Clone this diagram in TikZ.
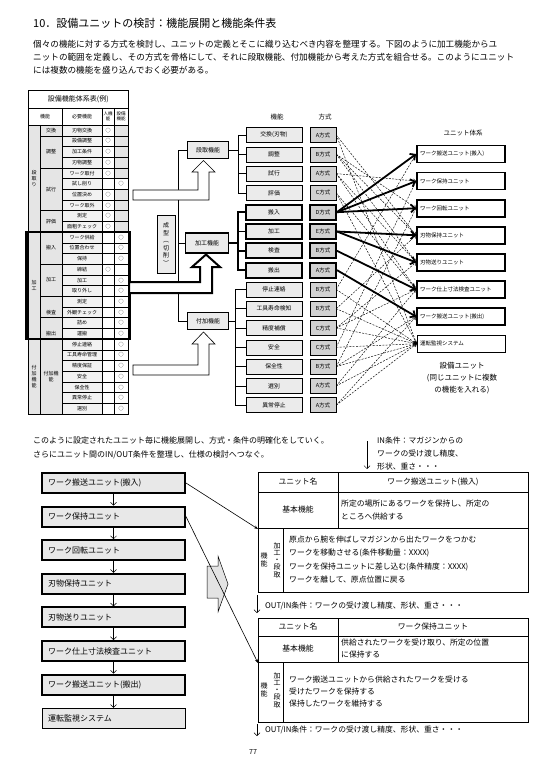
\documentclass[tikz,border=0pt]{standalone}
\usepackage{fontspec}
\setmainfont{Noto Sans CJK JP}
\usetikzlibrary{arrows.meta}
\newcommand\jfs[2]{\fontsize{#1pt}{#2pt}\selectfont}
\begin{document}
\begin{tikzpicture}[x=1pt,y=-1pt,
  txtw/.style={inner sep=0pt, anchor=west},
  txtc/.style={inner sep=0pt, align=center},
  fbox/.style={draw, line width=0.5pt, fill=gray!16, minimum width=56pt, minimum height=15pt, inner sep=0pt, font=\jfs{5.8}{7}},
  fboxk/.style={fbox, line width=1.8pt},
  mbox/.style={draw, line width=0.5pt, fill=gray!36, minimum width=26pt, minimum height=15pt, inner sep=0pt, font=\jfs{5.5}{7}},
  mboxk/.style={mbox, line width=1.8pt},
  ubox/.style={draw, line width=1.8pt, fill=white, text width=82pt, inner xsep=3pt, inner ysep=0pt, minimum height=17pt, align=left, font=\jfs{5.5}{7}},
  uboxthin/.style={ubox, line width=0.6pt},
  gbox/.style={draw, line width=0.5pt, fill=gray!16, inner sep=0pt, font=\jfs{6}{7}},
  thk/.style={line width=1.8pt, -{Straight Barb[length=4pt,width=8pt]}},
  dsh/.style={line width=0.45pt, dash pattern=on 2pt off 1.3pt, -{Straight Barb[length=2.5pt,width=4pt]}},
  flowk/.style={draw, line width=2pt, fill=gray!18, text width=131pt, inner xsep=6pt, inner ysep=0pt, minimum height=20pt, align=left, font=\jfs{8}{9}},
  flowthin/.style={flowk, line width=0.6pt},
  darr/.style={line width=0.5pt, -{Straight Barb[length=3pt,width=6pt]}},
  thinarr/.style={line width=0.6pt, -{Stealth[length=4pt,width=3pt]}},
  tline/.style={line width=0.5pt},
  cell/.style={txtc, font=\jfs{5}{6}},
  rt/.style={txtw, font=\jfs{7.8}{9}}
]
\useasboundingbox[fill=white] (0,0) rectangle (535,767);

% ---------- title and paragraph ----------
\node[txtw, font=\jfs{11}{12}] (title) at (33,23) {10．設備ユニットの検討：機能展開と機能条件表};
\node[txtw, font=\jfs{8.6}{10}] (p1) at (33,44) {個々の機能に対する方式を検討し、ユニットの定義とそこに織り込むべき内容を整理する。下図のように加工機能からユ};
\node[txtw, font=\jfs{8.6}{10}] (p2) at (33,57) {ニットの範囲を定義し、その方式を骨格にして、それに段取機能、付加機能から考えた方式を組合せる。このようにユニット};
\node[txtw, font=\jfs{8.6}{10}] (p3) at (33,70) {には複数の機能を盛り込んでおく必要がある。};

% ---------- table ----------
\node[draw, line width=0.6pt, minimum width=100pt, minimum height=18pt, inner sep=0pt, anchor=north west, font=\jfs{7}{8}] (ttl) at (28,90) {設備機能体系表(例)};
\draw[tline] (28,108) rectangle (128,125);
\draw[tline] (62,108) -- (62,125) (102,108) -- (102,125) (114,108) -- (114,125);
\node[cell] (h1) at (45,116.5) {機能};
\node[cell] (h2) at (82,116.5) {必要機能};
\node[txtc, font=\jfs{4.5}{5.5}] (h3) at (108,116.5) {人機\\能};
\node[txtc, font=\jfs{4.5}{5.5}] (h4) at (121,116.5) {設備\\機能};

\fill[gray!20] (28,125) rectangle (62,414);
\fill[gray!10] (62,125) rectangle (102,414);
\foreach \r in {0,1,2,3,4,6,7,8,9} \fill[gray!20] (114,125+10.7*\r) rectangle (128,135.7+10.7*\r);
\draw[tline] (28,125) rectangle (128,414);
\draw[tline] (40,125) -- (40,414) (62,125) -- (62,414) (102,125) -- (102,414) (114,125) -- (114,414);
\foreach \r in {1,...,26} \draw[line width=0.35pt] (62,125+10.7*\r) -- (128,125+10.7*\r);
\foreach \r in {1,4,8,10,13,16,18,20} \draw[line width=0.35pt] (40,125+10.7*\r) -- (62,125+10.7*\r);
\foreach \r in {10,20} \draw[line width=0.35pt] (28,125+10.7*\r) -- (40,125+10.7*\r);

\node[cell] (g1) at (34,178.5) {段\\取\\り};
\node[cell] (g2) at (34,285.5) {加\\工};
\node[cell] (g3) at (34,376.5) {付\\加\\機\\能};
\node[cell] (s1) at (51,130.35) {交換};
\node[cell] (s2) at (51,151.75) {調整};
\node[cell] (s3) at (51,189.2) {試行};
\node[cell] (s4) at (51,221.3) {評価};
\node[cell] (s5) at (51,247.6) {搬入};
\node[cell] (s6) at (51,280.1) {加工};
\node[cell] (s7) at (51,312.25) {検査};
\node[cell] (s8) at (51,333.65) {搬出};
\node[cell] (s9) at (51,376.5) {付加機\\能};
\foreach \i/\t in {0/刃物交換,1/設備調整,2/加工条件,3/刃物調整,4/ワーク取付,5/試し削り,6/位置決め,7/ワーク取外,8/測定,9/面粗チェック,10/ワーク供給,11/位置合わせ,12/保持,13/締結,14/加工,15/取り外し,16/測定,17/外観チェック,18/詰め,19/運搬,20/停止連絡,21/工具寿命管理,22/精度保証,23/安全,24/保全性,25/異常停止,26/選別}
  \node[cell] (r\i) at (82,130.35+10.7*\i) {\t};
\foreach \i in {0,1,2,3,4,6,7,8,9,13}
  \node[cell] (hm\i) at (108,130.35+10.7*\i) {○};
\foreach \i in {5,10,11,12,14,15,16,17,18,19,20,21,22,23,24,25,26}
  \node[cell] (sm\i) at (121,130.35+10.7*\i) {○};
\draw[line width=2.2pt] (26.5,232) rectangle (129.5,339);

% ---------- middle: function groups ----------
\coordinate (bl) at (178,150);
\node[gbox, minimum width=41pt, minimum height=17pt] (dq) at (208,150) {段取機能};
\node[gbox, minimum width=41pt, minimum height=17pt] (fk) at (208,321) {付加機能};
\draw[tline] (dq.west) -- (bl) -- (bl |- fk.west) -- (fk.west);
\draw[tline] (bl |- 0,243) -- (185,243);

% hollow arrows
\draw[line width=0.6pt, fill=white] (133,190) -- (198,190) -- (198,172) -- (192,172) -- (203.5,160.5) -- (215,172) -- (209,172) -- (209,200) -- (133,200) -- cycle;
\draw[line width=2pt, fill=white, line join=miter] (129,282) -- (200,282) -- (200,267) -- (192,267) -- (206,254.5) -- (220,267) -- (212,267) -- (212,293) -- (129,293) -- cycle;
\draw[line width=0.6pt, fill=white] (133,365) -- (198,365) -- (198,344) -- (192,344) -- (203.5,332) -- (215,344) -- (209,344) -- (209,375) -- (133,375) -- cycle;

\node[gbox, line width=1.8pt, minimum width=43pt, minimum height=20pt] (kk) at (207,243) {加工機能};
\node[gbox, minimum width=18pt, minimum height=58pt, align=center, font=\jfs{6}{7.5}] (sk) at (166,244) {成\\型\\︵\\切\\削\\︶};

% function / method columns
\node[txtc, font=\jfs{6.5}{7}] (hf) at (277,117) {機能};
\node[txtc, font=\jfs{6.5}{7}] (hm) at (325,117) {方式};
\foreach \i/\t/\m in {0/交換(刃物)/A方式,1/調整/B方式,2/試行/A方式,3/評価/C方式}{
  \node[fbox] (f\i) at (274,135+19.3*\i) {\t};
  \node[mbox] (m\i) at (323,135+19.3*\i) {\m};
}
\foreach \i/\t/\m in {4/搬入/D方式,5/加工/E方式,6/検査/B方式,7/搬出/A方式}{
  \node[fboxk] (f\i) at (274,135+19.3*\i) {\t};
  \node[mboxk] (m\i) at (323,135+19.3*\i) {\m};
}
\foreach \i/\t/\m in {8/停止連絡/B方式,9/工具寿命検知/B方式,10/精度補償/C方式,11/安全/C方式,12/保全性/B方式,13/選別/A方式,14/異常停止/A方式}{
  \node[fbox] (f\i) at (274,135+19.3*\i) {\t};
  \node[mbox] (m\i) at (323,135+19.3*\i) {\m};
}

% trees
\coordinate (bd) at (238,150);
\draw[tline] (dq.east) -- (bd);
\draw[tline] (f0.west -| bd) -- (f3.west -| bd);
\foreach \i in {0,...,3} \draw[tline] (f\i.west -| bd) -- (f\i.west);
\coordinate (bk) at (238,243);
\draw[line width=1.8pt] (kk.east) -- (bk);
\draw[line width=1.8pt, line cap=rect] (f4.west -| bk) -- (f7.west -| bk);
\foreach \i in {4,...,7} \draw[line width=1.8pt] (f\i.west -| bk) -- (f\i.west);
\coordinate (bf) at (235,321);
\draw[tline] (fk.east) -- (bf);
\draw[tline] (f8.west -| bf) -- (f14.west -| bf);
\foreach \i in {8,...,14} \draw[tline] (f\i.west -| bf) -- (f\i.west);

% ---------- unit system ----------
\node[txtc, font=\jfs{6.5}{7}] (ut) at (463,133) {ユニット体系};
\foreach \i/\t in {0/ワーク搬送ユニット(搬入),1/ワーク保持ユニット,2/ワーク回転ユニット,3/刃物保持ユニット,4/刃物送りユニット,5/ワーク仕上寸法検査ユニット,6/ワーク搬送ユニット(搬出)}
  \node[ubox] (u\i) at (461,154+27.1*\i) {\t};
\node[uboxthin] (u7) at (461,343.7) {運転監視システム};
\node[txtc, font=\jfs{7.5}{12}] (note) at (462,378) {設備ユニット\\(同じユニットに複数\\の機能を入れる)};

\foreach \a/\b in {0/3,0/7,1/2,1/3,1/4,2/1,2/4,2/5,3/5,3/7,8/0,8/7,9/3,9/7,10/4,10/5,10/7,11/1,11/7,12/2,12/6,12/7,13/5,13/7,14/6,14/7}
  \draw[dsh] (m\a.east) -- (u\b.west);
\foreach \a/\b in {4/0,4/1,4/2,5/3,5/4,6/5,7/6}
  \draw[thk] (m\a.east) -- (u\b.west);

% ---------- lower section ----------
\node[txtw, font=\jfs{8}{9}] (q1) at (33,440) {このように設定されたユニット毎に機能展開し、方式・条件の明確化をしていく。};
\node[txtw, font=\jfs{8}{9}] (q2) at (33,455) {さらにユニット間のIN/OUT条件を整理し、仕様の検討へつなぐ。};

\node[txtw, font=\jfs{7.8}{9}] (in1) at (377,441) {IN条件：マガジンからの};
\node[txtw, font=\jfs{7.8}{9}] (in2) at (377,454) {ワークの受け渡し精度、};
\node[txtw, font=\jfs{7.8}{9}] (in3) at (377,467) {形状、重さ・・・};
\coordinate (ia) at (367,441);
\coordinate (ib) at (367,469);
\draw[darr] (ia) -- (ib);

% flow boxes
\foreach \i/\t in {0/ワーク搬送ユニット(搬入),1/ワーク保持ユニット,2/ワーク回転ユニット,3/刃物保持ユニット,4/刃物送りユニット,5/ワーク仕上寸法検査ユニット,6/ワーク搬送ユニット(搬出)}
  \node[flowk] (w\i) at (113.5,483+33.6*\i) {\t};
\node[flowthin] (w7) at (113.5,718.2) {運転監視システム};
\foreach \i [evaluate=\i as \j using int(\i+1)] in {0,...,6}
  \draw[darr] (w\i.south) -- (w\j.north);

% block arrow
\draw[line width=0.5pt, fill=gray!22] (207,566) -- (218,566) -- (218,556) -- (228,584) -- (218,612) -- (218,598) -- (207,598) -- cycle;

% table 1
\draw[line width=0.7pt] (258,472) rectangle (528,592);
\draw[tline] (258,492) -- (528,492) (258,528) -- (528,528) (338,472) -- (338,528) (283,528) -- (283,592);
\node[txtc, font=\jfs{7.8}{9}] (a1) at (298,482) {ユニット名};
\node[txtc, font=\jfs{7.8}{9}] (a2) at (433,482) {ワーク搬送ユニット(搬入)};
\node[txtc, font=\jfs{7.8}{9}] (a3) at (298,510) {基本機能};
\node[rt] (a4) at (341,504) {所定の場所にあるワークを保持し、所定の};
\node[rt] (a5) at (341,517) {ところへ供給する};
\node[txtc, font=\jfs{7}{8}] (a6) at (264,560) {機\\能};
\node[txtc, font=\jfs{7}{7.3}] (a7) at (277,560) {加\\工\\・\\段\\取};
\node[rt] (a8) at (289,540) {原点から腕を伸ばしマガジンから出たワークをつかむ};
\node[rt] (a9) at (289,553) {ワークを移動させる(条件移動量：XXXX)};
\node[rt] (a10) at (289,567) {ワークを保持ユニットに差し込む(条件精度：XXXX)};
\node[rt] (a11) at (289,580) {ワークを離して、原点位置に戻る};
\coordinate (o1a) at (257,595);
\coordinate (o1b) at (257,613);
\draw[darr] (o1a) -- (o1b);
\node[rt] (o1) at (265,606) {OUT/IN条件：ワークの受け渡し精度、形状、重さ・・・};

% table 2
\draw[line width=0.7pt] (258,618) rectangle (528,722);
\draw[tline] (258,636) -- (528,636) (258,662) -- (528,662) (338,618) -- (338,662) (283,662) -- (283,722);
\node[txtc, font=\jfs{7.8}{9}] (b1) at (298,627) {ユニット名};
\node[txtc, font=\jfs{7.8}{9}] (b2) at (433,627) {ワーク保持ユニット};
\node[txtc, font=\jfs{7.8}{9}] (b3) at (298,649) {基本機能};
\node[rt] (b4) at (341,643) {供給されたワークを受け取り、所定の位置};
\node[rt] (b5) at (341,655) {に保持する};
\node[txtc, font=\jfs{7}{8}] (b6) at (264,690) {機\\能};
\node[txtc, font=\jfs{7}{7.3}] (b7) at (277,690) {加\\工\\・\\段\\取};
\node[rt] (b8) at (289,680) {ワーク搬送ユニットから供給されたワークを受ける};
\node[rt] (b9) at (289,692) {受けたワークを保持する};
\node[rt] (b10) at (289,704) {保持したワークを維持する};
\coordinate (o2a) at (257,724);
\coordinate (o2b) at (257,736);
\draw[darr] (o2a) -- (o2b);
\node[rt] (o2) at (265,730) {OUT/IN条件：ワークの受け渡し精度、形状、重さ・・・};

% diagonal arrows
\coordinate (t1c) at (258,529);
\coordinate (t2c) at (258,663);
\draw[thinarr] (w0.east) -- (t1c);
\draw[thinarr] (w1.east) -- (t2c);

\node[txtc, font=\jfs{7}{8}] (pg) at (253,752) {77};
\end{tikzpicture}
\end{document}
